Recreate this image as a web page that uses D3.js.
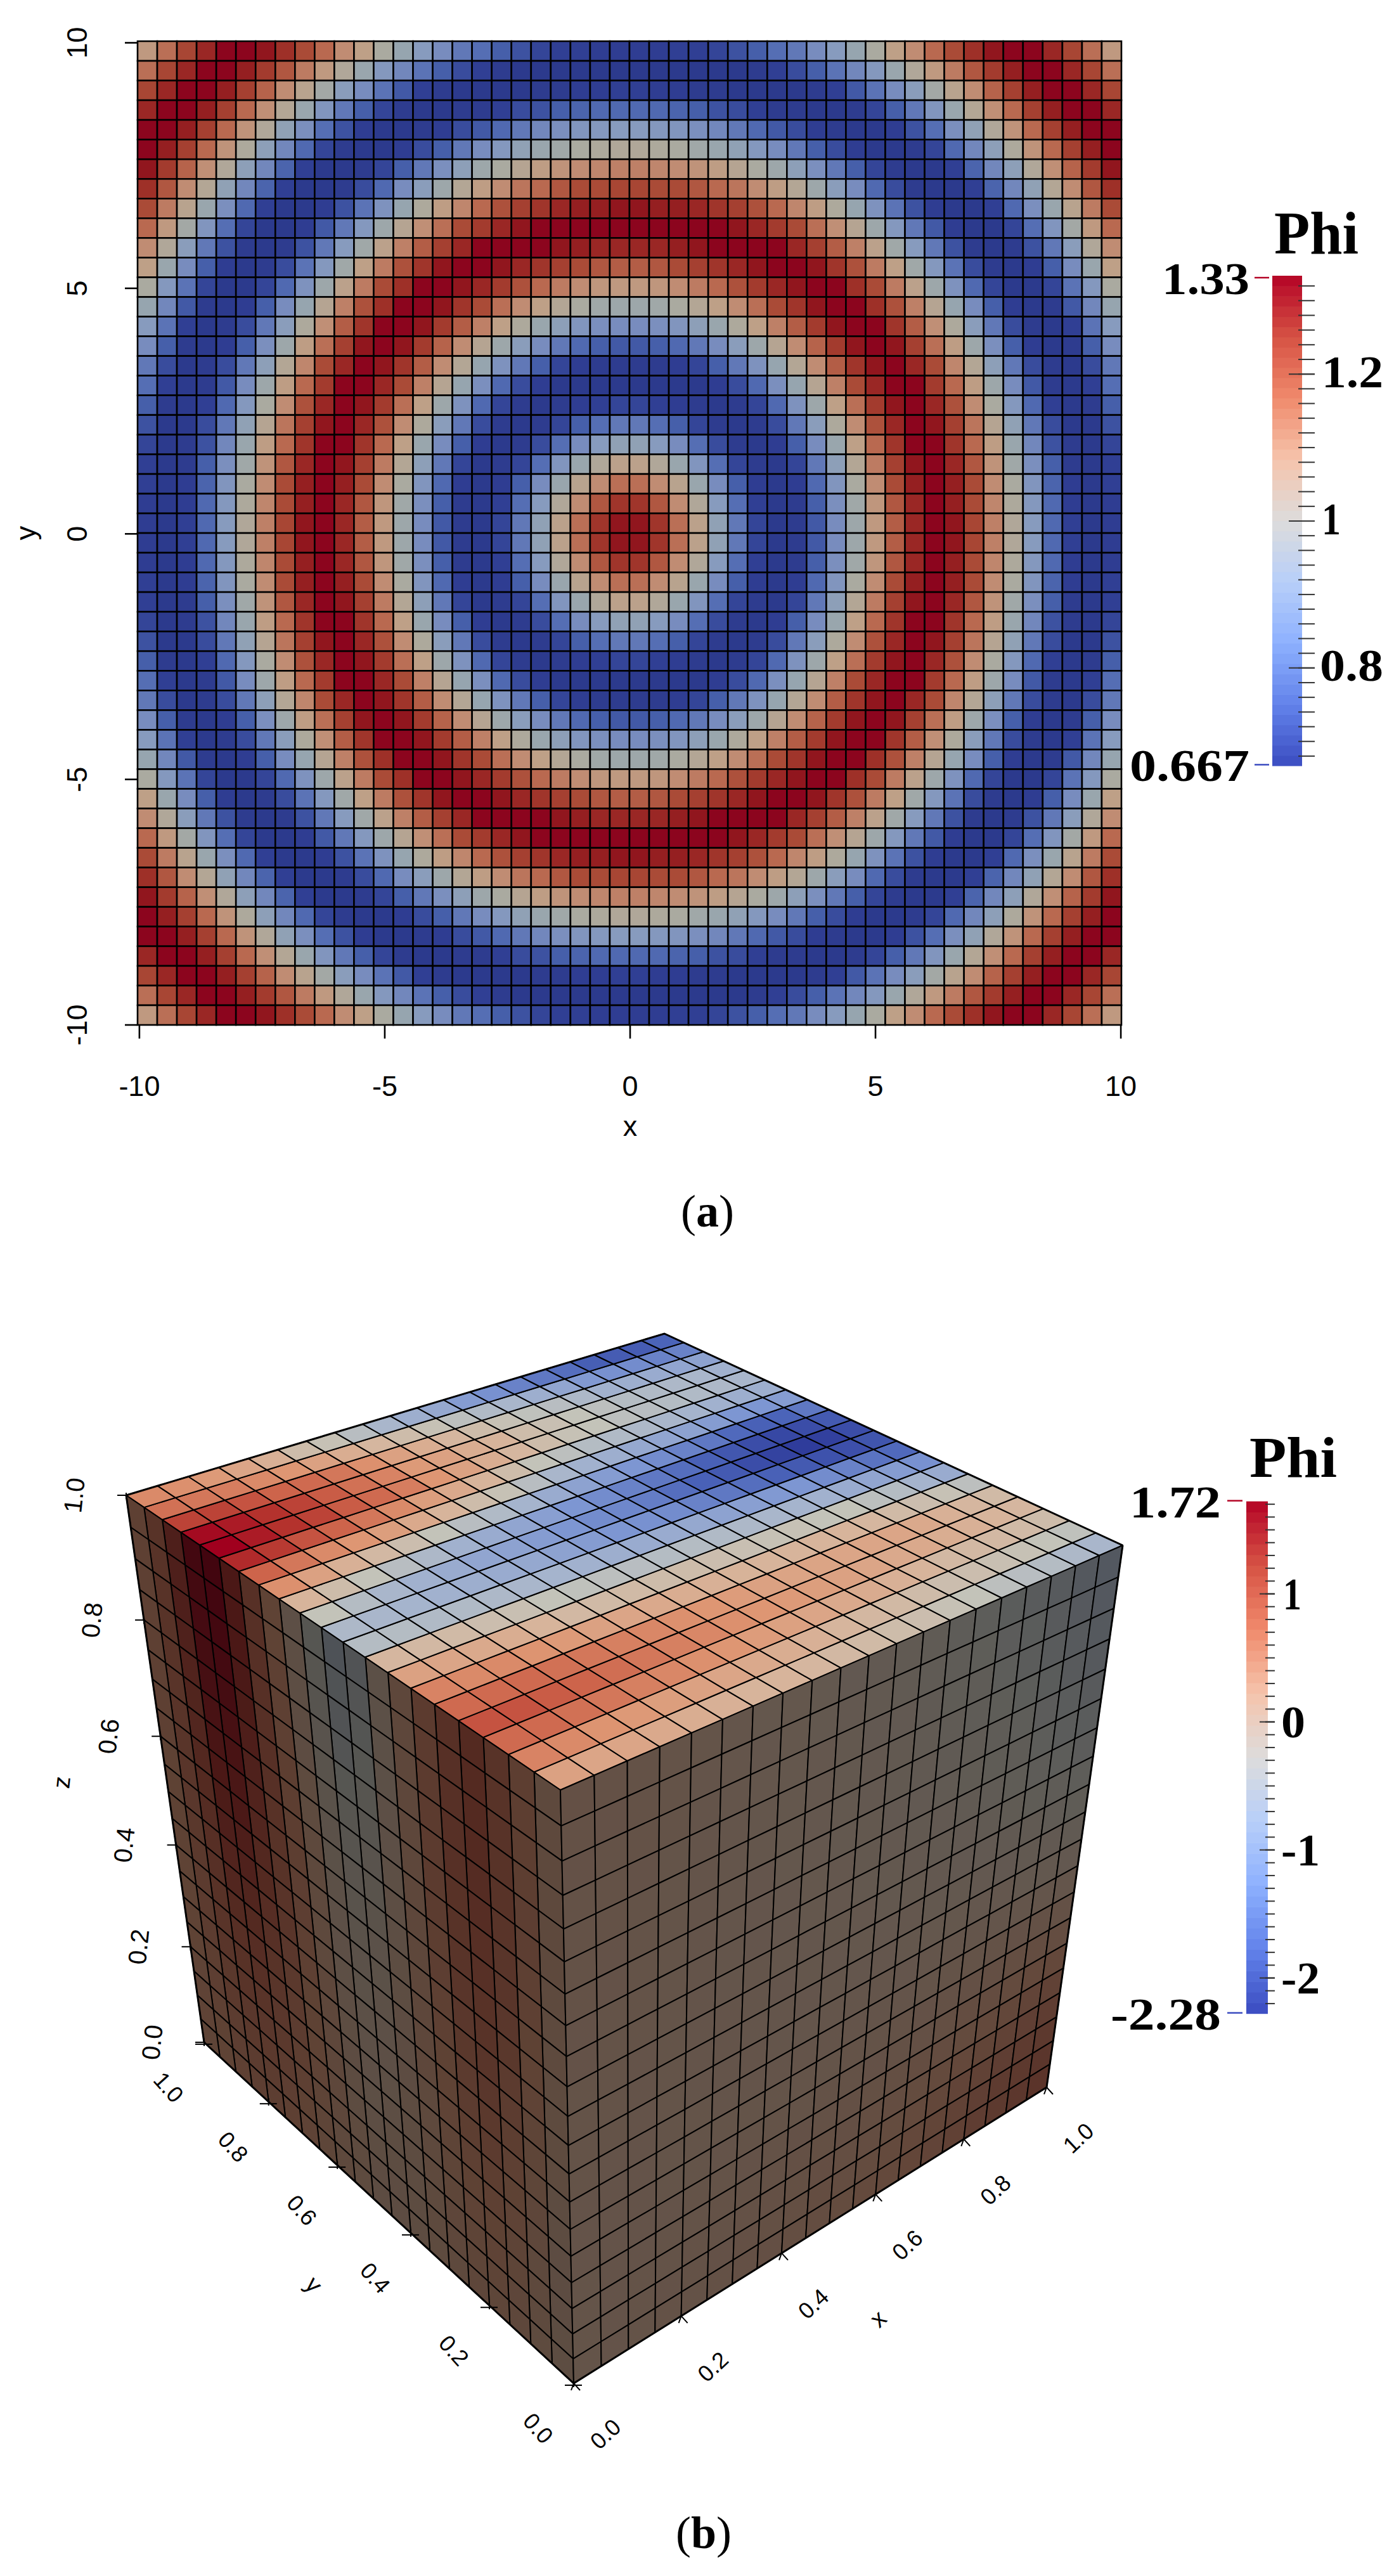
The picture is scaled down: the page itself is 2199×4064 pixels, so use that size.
<!DOCTYPE html>
<html><head><meta charset="utf-8">
<script src="https://cdn.jsdelivr.net/npm/d3@7/dist/d3.min.js"></script>
<style>html,body{margin:0;padding:0;background:#fff}svg{display:block}</style></head>
<body><svg id="c" width="2199" height="4064" viewBox="0 0 2199 4064"></svg>
<script>
// ---- Panel (a): Phi read per cell; one quadrant (the picture is mirror symmetric), rows/cols from the centre outwards
const phiQuadrant = [
[1.32,1.28,1.18,1.06,.92,.80,.71,.67,.68,.74,.84,.96,1.09,1.21,1.30,1.33,1.32,1.25,1.15,1.02,.89,.77,.70,.67,.69],
[1.28,1.22,1.13,1.02,.89,.78,.70,.67,.68,.75,.85,.97,1.10,1.22,1.30,1.33,1.31,1.24,1.14,1.01,.88,.77,.69,.67,.69],
[1.18,1.13,1.05,.95,.84,.75,.69,.67,.69,.77,.87,1.00,1.13,1.24,1.31,1.33,1.31,1.24,1.13,1.00,.87,.76,.69,.67,.70],
[1.06,1.02,.95,.87,.78,.71,.68,.67,.71,.80,.91,1.03,1.16,1.26,1.32,1.33,1.30,1.22,1.11,.97,.85,.75,.68,.67,.70],
[.92,.89,.84,.78,.72,.68,.67,.69,.75,.84,.95,1.07,1.19,1.28,1.33,1.33,1.28,1.19,1.08,.95,.83,.73,.68,.67,.71],
[.80,.78,.75,.71,.68,.67,.68,.72,.80,.90,1.01,1.13,1.23,1.30,1.33,1.32,1.26,1.17,1.04,.92,.80,.72,.67,.67,.73],
[.71,.70,.69,.68,.67,.68,.71,.77,.86,.96,1.07,1.18,1.27,1.32,1.33,1.30,1.23,1.13,1.00,.88,.77,.70,.67,.68,.75],
[.67,.67,.67,.67,.69,.72,.77,.85,.94,1.04,1.15,1.24,1.30,1.33,1.33,1.27,1.19,1.08,.96,.84,.74,.68,.67,.70,.78],
[.68,.68,.69,.71,.75,.80,.86,.94,1.03,1.13,1.21,1.28,1.32,1.33,1.30,1.24,1.14,1.03,.91,.80,.72,.68,.67,.72,.80],
[.74,.75,.77,.80,.84,.90,.96,1.04,1.13,1.20,1.27,1.32,1.33,1.32,1.26,1.18,1.08,.96,.85,.75,.69,.67,.68,.75,.84],
[.84,.85,.87,.91,.95,1.01,1.07,1.15,1.21,1.27,1.32,1.33,1.33,1.28,1.21,1.12,1.01,.90,.80,.72,.68,.67,.70,.79,.89],
[.96,.97,1.00,1.03,1.07,1.13,1.18,1.24,1.28,1.32,1.33,1.33,1.29,1.23,1.15,1.04,.94,.84,.75,.69,.67,.68,.74,.83,.94],
[1.09,1.10,1.13,1.16,1.19,1.23,1.27,1.30,1.32,1.33,1.33,1.29,1.24,1.16,1.06,.96,.86,.77,.71,.67,.67,.71,.79,.88,1.00],
[1.21,1.22,1.24,1.26,1.28,1.30,1.32,1.33,1.33,1.32,1.28,1.23,1.16,1.07,.97,.88,.79,.72,.68,.67,.69,.75,.84,.95,1.07],
[1.30,1.30,1.31,1.32,1.33,1.33,1.33,1.33,1.30,1.26,1.21,1.15,1.06,.97,.89,.80,.73,.68,.67,.68,.73,.80,.90,1.02,1.13],
[1.33,1.33,1.33,1.33,1.33,1.32,1.30,1.27,1.24,1.18,1.12,1.04,.96,.88,.80,.74,.69,.67,.67,.71,.78,.87,.98,1.09,1.19],
[1.32,1.31,1.31,1.30,1.28,1.26,1.23,1.19,1.14,1.08,1.01,.94,.86,.79,.73,.69,.67,.67,.70,.77,.85,.95,1.05,1.16,1.24],
[1.25,1.24,1.24,1.22,1.19,1.17,1.13,1.08,1.03,.96,.90,.84,.77,.72,.68,.67,.67,.70,.76,.83,.92,1.03,1.13,1.22,1.29],
[1.15,1.14,1.13,1.11,1.08,1.04,1.00,.96,.91,.85,.80,.75,.71,.68,.67,.67,.70,.76,.83,.91,1.02,1.12,1.20,1.27,1.32],
[1.02,1.01,1.00,.97,.95,.92,.88,.84,.80,.75,.72,.69,.67,.67,.68,.71,.77,.83,.91,1.01,1.11,1.19,1.26,1.31,1.33],
[.89,.88,.87,.85,.83,.80,.77,.74,.72,.69,.68,.67,.67,.69,.73,.78,.85,.92,1.02,1.11,1.19,1.26,1.31,1.33,1.33],
[.77,.77,.76,.75,.73,.72,.70,.68,.68,.67,.67,.68,.71,.75,.80,.87,.95,1.03,1.12,1.19,1.26,1.31,1.33,1.33,1.30],
[.70,.69,.69,.68,.68,.67,.67,.67,.67,.68,.70,.74,.79,.84,.90,.98,1.05,1.13,1.20,1.26,1.31,1.33,1.33,1.30,1.25],
[.67,.67,.67,.67,.67,.67,.68,.70,.72,.75,.79,.83,.88,.95,1.02,1.09,1.16,1.22,1.27,1.31,1.33,1.33,1.30,1.25,1.18],
[.69,.69,.70,.70,.71,.73,.75,.78,.80,.84,.89,.94,1.00,1.07,1.13,1.19,1.24,1.29,1.32,1.33,1.33,1.30,1.25,1.18,1.09]
];
const axisTicksA = [-10,-5,0,5,10];
const legendLabelsA = ["1.2","1","0.8"];
const legendValuesA = [1.2,1,0.8];
const rangeA = [0.667,1.33];

// ---- Panel (b): Phi per cell on the three visible cube faces
// top face z=1, rows y index 0..19, columns x index 0..19
const topPhi = [
[.55,.5,.5,.45,.4,.35,.3,.3,.25,.2,.15,.1,.05,-.05,-.1,-.2,-.25,-.3,-.4,-.45],
[.85,.8,.72,.66,.6,.55,.5,.45,.4,.35,.28,.22,.18,.12,.05,.05,0,-.05,-.1,-.15],
[1.05,1.05,1,.95,.88,.82,.75,.7,.62,.56,.5,.45,.42,.35,.3,.2,.2,.2,.15,.1],
[1.2,1.2,1.15,1.1,1.02,.95,.88,.82,.75,.7,.65,.6,.55,.5,.45,.45,.4,.35,.3,.25],
[1.05,1.05,1.05,1,.95,.88,.82,.75,.7,.62,.55,.52,.52,.5,.5,.5,.45,.35,.25,.15],
[.85,.8,.8,.72,.65,.55,.5,.45,.4,.35,.32,.3,.3,.3,.3,.25,.15,.05,-.05,-.2],
[.55,.5,.45,.4,.3,.2,.15,.15,.1,.1,.05,0,-.05,-.05,-.1,-.1,-.2,-.3,-.5,-.65],
[.25,.2,.15,.05,0,-.1,-.15,-.2,-.25,-.3,-.3,-.35,-.4,-.45,-.5,-.55,-.65,-.75,-.9,-1.05],
[-.3,-.3,-.35,-.35,-.4,-.45,-.5,-.55,-.6,-.65,-.65,-.7,-.8,-.85,-.95,-1,-1.1,-1.2,-1.35,-1.45],
[-.4,-.45,-.5,-.55,-.6,-.65,-.7,-.8,-.9,-1,-1.05,-1.1,-1.2,-1.3,-1.4,-1.55,-1.7,-1.85,-1.9,-1.8],
[-.1,-.3,-.45,-.55,-.65,-.75,-.8,-.9,-1,-1.1,-1.15,-1.25,-1.4,-1.55,-1.7,-1.95,-2.15,-2.28,-2.2,-1.95],
[.3,.1,-.1,-.25,-.4,-.55,-.65,-.75,-.85,-1,-1.1,-1.2,-1.3,-1.4,-1.55,-1.75,-1.95,-2.05,-1.95,-1.7],
[.75,.55,.35,.2,.05,-.1,-.25,-.35,-.5,-.65,-.8,-.9,-1,-1.1,-1.2,-1.3,-1.45,-1.55,-1.5,-1.3],
[1.1,.95,.8,.7,.6,.45,.3,.1,-.05,-.25,-.45,-.55,-.6,-.7,-.75,-.8,-.9,-1,-1,-.9],
[1.45,1.35,1.2,1.1,.95,.8,.6,.45,.3,.1,-.1,-.2,-.3,-.35,-.4,-.45,-.5,-.55,-.6,-.6],
[1.72,1.55,1.4,1.3,1.15,1.05,.9,.7,.55,.4,.25,.1,-.05,-.1,-.2,-.25,-.3,-.35,-.4,-.45],
[1.65,1.55,1.4,1.3,1.15,1,.85,.65,.55,.4,.3,.1,0,-.1,-.2,-.3,-.35,-.4,-.45,-.55],
[1.3,1.3,1.2,1.1,1.05,.95,.75,.55,.4,.25,.1,-.05,-.15,-.25,-.4,-.55,-.6,-.65,-.75,-.8],
[1,.95,.9,.8,.7,.55,.4,.25,.1,-.05,-.2,-.35,-.45,-.6,-.75,-.95,-1.05,-1.1,-1.2,-1.2],
[.8,.75,.65,.5,.35,.1,-.05,-.25,-.45,-.6,-.7,-.9,-1.05,-1.2,-1.3,-1.4,-1.6,-1.65,-1.65,-1.5]
];
// left face x=0, rows from z top to z bottom, columns y index 0..19
const leftPhi = [
[.5,.8,1,1.15,1.05,.85,.55,.25,-.25,-.35,-.1,.3,.7,1.05,1.4,1.7,1.65,1.3,1,.75],
[.5,.8,1,1.15,1.05,.85,.55,.25,-.2,-.3,-.05,.35,.7,1.05,1.4,1.68,1.62,1.3,1,.75],
[.5,.8,1,1.15,1.05,.85,.55,.25,-.15,-.25,0,.35,.75,1.05,1.4,1.65,1.6,1.3,1,.75],
[.5,.8,1,1.15,1.05,.85,.55,.25,-.1,-.2,.05,.4,.75,1.05,1.38,1.62,1.58,1.28,1,.75],
[.5,.78,1,1.12,1.05,.85,.55,.3,-.05,-.1,.1,.4,.75,1.05,1.35,1.58,1.55,1.25,1,.75],
[.5,.78,.98,1.1,1.02,.85,.55,.3,0,-.05,.15,.45,.8,1.05,1.32,1.52,1.5,1.22,.98,.75],
[.48,.75,.95,1.08,1,.82,.55,.32,.05,0,.2,.45,.8,1.05,1.28,1.48,1.45,1.2,.98,.75],
[.48,.75,.95,1.05,.98,.8,.55,.35,.1,.05,.22,.5,.8,1.02,1.25,1.42,1.4,1.18,.95,.75],
[.48,.72,.92,1.02,.95,.78,.55,.35,.15,.1,.25,.5,.8,1,1.2,1.38,1.35,1.15,.95,.72],
[.45,.7,.9,1,.92,.75,.55,.38,.2,.15,.28,.52,.78,1,1.18,1.32,1.3,1.12,.92,.72],
[.45,.68,.85,.95,.9,.75,.55,.38,.22,.2,.3,.52,.78,.98,1.15,1.28,1.25,1.08,.9,.72],
[.45,.65,.82,.92,.85,.72,.55,.4,.25,.22,.32,.52,.75,.95,1.1,1.22,1.2,1.05,.88,.72],
[.45,.62,.8,.88,.82,.7,.55,.4,.28,.25,.35,.55,.75,.92,1.05,1.15,1.15,1.02,.85,.7],
[.42,.6,.75,.85,.8,.68,.52,.4,.3,.28,.38,.55,.72,.88,1,1.1,1.08,.98,.85,.7],
[.42,.58,.72,.8,.75,.65,.52,.42,.32,.3,.4,.55,.72,.85,.95,1.05,1.02,.95,.82,.7],
[.4,.55,.68,.75,.72,.62,.5,.42,.35,.32,.42,.55,.7,.82,.92,.98,.98,.9,.8,.7],
[.4,.52,.65,.72,.68,.6,.5,.42,.38,.35,.42,.55,.68,.8,.88,.92,.92,.88,.78,.68],
[.4,.5,.62,.68,.65,.58,.48,.42,.38,.38,.45,.55,.65,.75,.82,.88,.88,.82,.75,.68],
[.38,.48,.58,.65,.62,.55,.48,.42,.4,.4,.45,.52,.62,.72,.78,.82,.82,.78,.72,.68],
[.38,.45,.55,.6,.58,.52,.45,.42,.4,.4,.45,.52,.6,.68,.75,.78,.78,.75,.7,.65]
];
// right face y=0, rows from z top to z bottom, columns x index 0..19
const rightPhi = [
[.5,.48,.45,.42,.4,.35,.3,.3,.25,.2,.15,.1,.05,-.05,-.1,-.2,-.25,-.3,-.4,-.45],
[.48,.46,.44,.42,.38,.35,.32,.3,.26,.22,.18,.12,.06,0,-.06,-.15,-.2,-.28,-.36,-.42],
[.46,.45,.44,.42,.38,.36,.33,.3,.28,.24,.2,.15,.08,.02,-.03,-.1,-.17,-.24,-.32,-.38],
[.45,.45,.43,.4,.38,.36,.33,.3,.28,.25,.22,.17,.12,.06,0,-.06,-.13,-.2,-.28,-.34],
[.45,.44,.42,.4,.38,.36,.33,.3,.28,.26,.22,.18,.14,.08,.03,-.03,-.08,-.15,-.22,-.28],
[.44,.43,.42,.4,.38,.36,.34,.3,.28,.26,.23,.2,.16,.12,.07,.02,-.03,-.1,-.17,-.22],
[.44,.43,.42,.4,.38,.36,.34,.32,.3,.27,.25,.22,.18,.15,.1,.06,.02,-.04,-.1,-.15],
[.43,.42,.42,.4,.38,.36,.34,.32,.3,.28,.26,.24,.21,.18,.15,.1,.07,.02,-.03,-.07],
[.43,.42,.42,.4,.38,.36,.35,.33,.31,.3,.28,.26,.24,.22,.2,.16,.14,.1,.06,.02],
[.42,.42,.41,.4,.38,.37,.36,.34,.33,.31,.3,.28,.27,.26,.24,.22,.2,.18,.15,.12],
[.42,.42,.41,.4,.39,.38,.36,.35,.34,.33,.32,.31,.3,.3,.3,.28,.28,.26,.25,.22],
[.42,.42,.41,.4,.39,.38,.37,.36,.36,.35,.35,.35,.34,.35,.35,.35,.36,.36,.36,.35],
[.42,.41,.41,.4,.4,.39,.38,.38,.38,.38,.38,.38,.38,.4,.42,.42,.44,.46,.47,.48],
[.41,.41,.41,.4,.4,.4,.4,.4,.4,.4,.42,.42,.44,.46,.48,.5,.53,.56,.58,.6],
[.41,.41,.41,.4,.4,.41,.42,.42,.42,.44,.45,.46,.48,.5,.54,.58,.62,.66,.7,.72],
[.41,.41,.41,.41,.42,.42,.43,.44,.46,.47,.49,.52,.54,.58,.61,.66,.7,.75,.8,.84],
[.4,.41,.41,.42,.42,.44,.45,.47,.49,.51,.53,.56,.6,.64,.68,.73,.78,.84,.88,.92],
[.4,.41,.42,.42,.44,.45,.47,.49,.52,.55,.57,.6,.64,.69,.74,.79,.84,.9,.95,1],
[.4,.41,.42,.43,.45,.46,.49,.51,.54,.58,.6,.64,.68,.73,.78,.83,.88,.95,1,1.05],
[.4,.41,.42,.44,.45,.47,.5,.53,.56,.6,.63,.67,.7,.76,.8,.85,.92,.98,1.03,1.08]
];
const cubeTicks = [0,0.2,0.4,0.6,0.8,1];
const legendValuesB = [1,0,-1,-2];
const legendLabelsB = ["1","0","-1","-2"];
const rangeB = [-2.28,1.72];

// ---- colour tables
const cellDomainA = [.667,.70,.75,.78,.84,.89,.94,1,1.07,1.13,1.19,1.24,1.29,1.32,1.333];
const cellColorsA = ["#2c3a8c","#303f94","#465faa","#556eb4","#788cbe","#879bbe","#96a5af","#aaaaa0","#bea087","#c08c73","#b96950","#aa4b37","#9e3028","#91161e","#8a001e"];
const litDomainB = [-2.28,-1.5,-1,-.5,-.1,.3,.7,1.1,1.4,1.72];
const litColorsB = ["#2f3c9b","#4b64b9","#7d96d2","#a5b4cd","#c3c3b9","#d7b49b","#de9673","#cd644b","#b4322d","#a0001e"];
const coolwarmStops = ["#3b4cc0","#6282ea","#8db0fe","#b7cff9","#dddcdc","#f5c4ac","#f08a6c","#d65244","#b40426"];

const svg = d3.select("#c");
const FONT_SANS = "'Liberation Sans',Arial,sans-serif", FONT_SERIF = "'Liberation Serif','Times New Roman',serif";

function legend(cfg){
  const y = d3.scaleLinear().domain(cfg.domain).range(cfg.range);
  const g = svg.append("g");
  const color = d3.scaleSequential(d3.piecewise(d3.interpolateRgb, coolwarmStops)).domain(cfg.domain);
  const bands = d3.range(cfg.bands);
  const band = d3.scaleBand().domain(bands).range([cfg.range[0],cfg.range[1]]);
  g.selectAll("rect").data(bands).join("rect")
    .attr("x",cfg.barX).attr("width",cfg.barW)
    .attr("y",d=>band(d)).attr("height",band.bandwidth()+.6)
    .attr("fill",d=>color(cfg.domain[0]+(cfg.domain[1]-cfg.domain[0])*(d+.5)/cfg.bands));
  const ax=(vals,x,size)=>{const a=g.append("g").attr("transform",`translate(${x},0)`)
      .call(d3.axisRight(y).tickValues(vals).tickSize(size).tickFormat(""));
    a.select(".domain").remove(); a.selectAll("line").attr("stroke","#333").attr("stroke-width",cfg.tickW);};
  ax(cfg.minor,cfg.minorX,cfg.endX-cfg.minorX);
  ax(cfg.values,cfg.majorX,cfg.endX-cfg.majorX);
  g.selectAll("text.lab").data(cfg.labels).join("text").attr("class","lab")
    .attr("x",(d,i)=>cfg.labelX[i]).attr("y",(d,i)=>y(cfg.values[i])+cfg.baseOff)
    .attr("textLength",(d,i)=>cfg.labelW[i]).attr("lengthAdjust","spacingAndGlyphs")
    .attr("font-family",FONT_SERIF).attr("font-weight","bold").attr("font-size",cfg.fontSize).attr("fill","#000").text(d=>d);
  // min / max
  [[cfg.rangeVals[1],"#b40426",cfg.rangeLabels[1],0],[cfg.rangeVals[0],"#3b4cc0",cfg.rangeLabels[0],1]].forEach(([v,c,t,i])=>{
    const yy=y(v);
    g.append("line").attr("x1",cfg.rangeTick[0]).attr("x2",cfg.rangeTick[1]).attr("y1",yy-1).attr("y2",yy-1).attr("stroke",c).attr("stroke-width",2.5);
    g.append("text").attr("x",cfg.rangeRight-cfg.rangeW[i]).attr("y",yy+cfg.rangeBase).attr("textLength",cfg.rangeW[i]).attr("lengthAdjust","spacingAndGlyphs")
      .attr("font-family",FONT_SERIF).attr("font-weight","bold").attr("font-size",cfg.fontSize).text(t);
  });
  g.append("text").attr("x",cfg.titleX).attr("y",cfg.titleY).attr("textLength",cfg.titleW).attr("lengthAdjust","spacingAndGlyphs")
    .attr("font-family",FONT_SERIF).attr("font-weight","bold").attr("font-size",cfg.titleSize).text("Phi");
}

// ---------- Panel (a)
(function(){
  const n = phiQuadrant.length*2;
  const xBand = d3.scaleBand().domain(d3.range(n)).range([217,1769]);
  const yBand = d3.scaleBand().domain(d3.range(n)).range([65,1617]);
  const mirror = i => i<n/2 ? n/2-1-i : i-n/2;
  const col = d3.scaleLinear().domain(cellDomainA).range(cellColorsA).interpolate(d3.interpolateRgb).clamp(true);
  const cells = d3.cross(d3.range(n),d3.range(n));
  svg.append("g").selectAll("rect").data(cells).join("rect")
    .attr("x",d=>xBand(d[0])).attr("y",d=>yBand(d[1]))
    .attr("width",xBand.bandwidth()).attr("height",yBand.bandwidth())
    .attr("fill",d=>col(phiQuadrant[mirror(d[1])][mirror(d[0])]))
    .attr("stroke","#000").attr("stroke-width",2.6);
  const x = d3.scaleLinear().domain([-10,10]).range([219.4,1767.6]);
  const y = d3.scaleLinear().domain([-10,10]).range([1616.5,67]);
  const xa = svg.append("g").attr("transform","translate(0,1616.5)").call(d3.axisBottom(x).tickValues(axisTicksA).tickSize(22).tickFormat(d3.format("d")));
  const ya = svg.append("g").attr("transform","translate(217,0)").call(d3.axisLeft(y).tickValues(axisTicksA).tickSize(20).tickFormat(d3.format("d")));
  [xa,ya].forEach(a=>{a.select(".domain").remove();a.selectAll("line").attr("stroke","#000").attr("stroke-width",2.6);
    a.selectAll("text").attr("font-family",FONT_SANS).attr("font-size",45).attr("fill","#000").text(function(){return this.textContent.replace("\u2212","-");});});
  xa.selectAll("text").attr("y",112.5).attr("dy",0).attr("text-anchor","middle");
  ya.selectAll("text").attr("x",0).attr("dy",0).attr("y",-80).attr("text-anchor","middle").attr("transform","rotate(-90)");
  svg.append("text").attr("x",994).attr("y",1792).attr("text-anchor","middle").attr("font-family",FONT_SANS).attr("font-size",45).text("x");
  svg.append("text").attr("transform","translate(56,841) rotate(-90)").attr("text-anchor","middle").attr("font-family",FONT_SANS).attr("font-size",45).text("y");
  legend({domain:[.6665,1.3335],range:[1208,435],bands:48,barX:2007,barW:47,values:legendValuesA,labels:legendLabelsA,
    minor:d3.range(34,67).map(d=>d/50),minorX:2048,majorX:2033,endX:2074,tickW:2,
    labelX:[2085,2085,2082],labelW:[97,30,100],baseOff:21,fontSize:72,
    rangeVals:rangeA,rangeLabels:["0.667","1.33"],rangeTick:[1979,2002],rangeRight:1971,rangeW:[138,189],rangeBase:25,
    titleX:2010,titleY:400,titleW:133,titleSize:96});
  svg.append("text").attr("x",1116).attr("y",1935).attr("text-anchor","middle").attr("font-family",FONT_SERIF).attr("font-size",72)
    .html('(<tspan font-weight="bold">a</tspan>)');
})();

// ---------- Panel (b)
(function(){
  const CORNERS = {F:[884,2824],R:[1771,2438],T:[1048,2104],L:[199,2359],LB:[322,3222],FB:[905,3760],RB:[1651,3293]};
  function quad(p0,p1,p2,p3){
    const dx1=p1[0]-p2[0],dx2=p3[0]-p2[0],sx=p0[0]-p1[0]+p2[0]-p3[0];
    const dy1=p1[1]-p2[1],dy2=p3[1]-p2[1],sy=p0[1]-p1[1]+p2[1]-p3[1];
    const det=dx1*dy2-dx2*dy1, g=(sx*dy2-dx2*sy)/det, h=(dx1*sy-sx*dy1)/det;
    const a=p1[0]-p0[0]+g*p1[0], b=p3[0]-p0[0]+h*p3[0], c=p0[0];
    const d=p1[1]-p0[1]+g*p1[1], e=p3[1]-p0[1]+h*p3[1], f=p0[1];
    return (u,v)=>{const w=g*u+h*v+1;return [(a*u+b*v+c)/w,(d*u+e*v+f)/w];};
  }
  const K=CORNERS;
  const topP=quad(K.F,K.R,K.T,K.L), leftP=quad(K.F,K.L,K.LB,K.FB), rightP=quad(K.F,K.R,K.RB,K.FB);
  const lit=d3.scaleLinear().domain(litDomainB).range(litColorsB).interpolate(d3.interpolateRgb).clamp(true);
  const shaded=(v,k,s)=>{const c=d3.rgb(lit(v));const m=(c.r+c.g+c.b)/3;
    return d3.rgb((c.r*(1-s)+m*s)*k,(c.g*(1-s)+m*s)*k,(c.b*(1-s)+m*s)*k).formatRgb();};
  const line=d3.line();
  function face(data,proj,fill){
    const nr=data.length,nc=data[0].length;
    const u=d3.scaleLinear().domain([0,nc]).range([0,1]), v=d3.scaleLinear().domain([0,nr]).range([0,1]);
    svg.append("g").selectAll("path").data(d3.cross(d3.range(nr),d3.range(nc))).join("path")
      .attr("d",([r,c])=>line([proj(u(c),v(r)),proj(u(c+1),v(r)),proj(u(c+1),v(r+1)),proj(u(c),v(r+1))])+"Z")
      .attr("fill",([r,c])=>fill(data[r][c]))
      .attr("stroke","#000").attr("stroke-width",2).attr("stroke-linejoin","round");
  }
  face(topPhi,topP,v=>lit(v));
  face(leftPhi,leftP,v=>shaded(v,.44,.12));
  face(rightPhi,rightP,v=>shaded(v,.48,.22));
  // axes
  const ticks=svg.append("g").attr("stroke","#000").attr("stroke-width",2);
  const mark=(p,a)=>a.forEach(q=>ticks.append("path").attr("d",line([[p[0]+q[0],p[1]+q[1]],[p[0]+q[2],p[1]+q[3]]])));
  const labels=(t,pos,off,rot,size)=>svg.append("text")
      .attr("transform",`translate(${pos[0]+off[0]},${pos[1]+off[1]}) rotate(${rot})`).attr("text-anchor","middle")
      .attr("dominant-baseline","central").attr("font-family",FONT_SANS).attr("font-size",size).text(t);
  const tf=d3.format(".1f");
  cubeTicks.forEach(t=>{
    const pz=leftP(1,1-t), py=leftP(t,1), px=rightP(t,1);
    mark(pz,[[-14,0,2,0],[0,-4,0,6]]);
    mark(py,[[-14,3,13,3],[0,-6,0,6]]);
    mark(px,[[0,0,10,11],[0,0,-4,11]]);
    labels(tf(t),pz,[-82,0],-84,40);
    labels(tf(t),py,[-56,71],48,36);
    labels(tf(t),px,[50,80],-43,36);
  });
  const edge=svg.append("g").attr("fill","none").attr("stroke","#000").attr("stroke-width",3);
  edge.append("path").attr("d",line([K.L,K.T,K.R]));
  edge.append("path").attr("d",line([K.L,K.LB,K.FB,K.RB,K.R]));
  svg.append("text").attr("transform",`translate(495,3604) rotate(48)`).attr("text-anchor","middle").attr("dominant-baseline","central").attr("font-family",FONT_SANS).attr("font-size",38).text("y");
  svg.append("text").attr("transform",`translate(1385,3658) rotate(-43)`).attr("text-anchor","middle").attr("dominant-baseline","central").attr("font-family",FONT_SANS).attr("font-size",38).text("x");
  svg.append("text").attr("transform",`translate(97,2812) rotate(-84)`).attr("text-anchor","middle").attr("dominant-baseline","central").attr("font-family",FONT_SANS).attr("font-size",38).text("z");
  legend({domain:rangeB,range:[3176.6,2368.6],bands:48,barX:1966,barW:34,values:legendValuesB,labels:legendLabelsB,
    minor:d3.range(-22,18).map(d=>d/10),minorX:1996,majorX:1987,endX:2011,tickW:2,
    labelX:[2024,2021,2021,2021],labelW:[29,38,61,61],baseOff:25,fontSize:72,
    rangeVals:rangeB,rangeLabels:["-2.28","1.72"],rangeTick:[1936,1960],rangeRight:1926,rangeW:[144,174],rangeBase:25,
    titleX:1971,titleY:2330,titleW:138,titleSize:92});
  svg.append("text").attr("x",1110).attr("y",4020).attr("text-anchor","middle").attr("font-family",FONT_SERIF).attr("font-size",72)
    .html('(<tspan font-weight="bold">b</tspan>)');
})();
</script></body></html>
